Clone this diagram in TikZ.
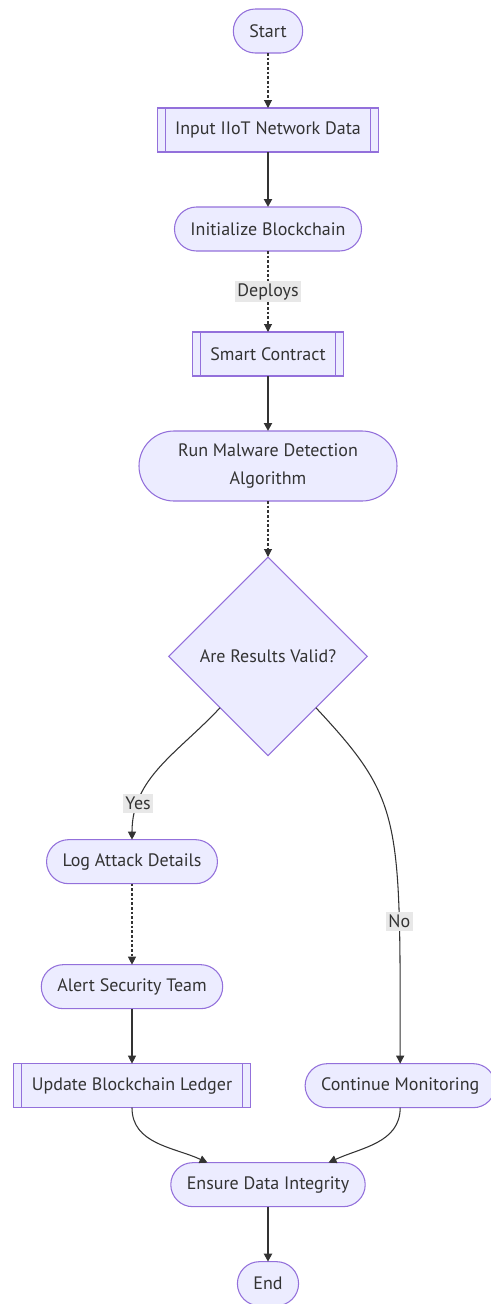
\documentclass[tikz,border=0pt]{standalone}
\usepackage{fontspec}
\setmainfont{PT Sans}
\usetikzlibrary{arrows.meta, positioning, shapes.geometric}
\definecolor{nodefill}{HTML}{ECECFF}
\definecolor{nodeline}{HTML}{9370DB}
\definecolor{linkgray}{HTML}{333333}
\definecolor{labelbg}{HTML}{E8E8E8}

\begin{document}
\begin{tikzpicture}[
  node distance=41.25pt,
  font=\fontsize{13.5}{16}\selectfont, text=linkgray,
  stadium/.style={rectangle, draw=nodeline, fill=nodefill, line width=0.8pt, outer sep=0pt,
                  rounded corners=16.5pt, minimum height=33pt, inner xsep=12pt, align=center},
  subbox/.style={rectangle, draw=nodeline, fill=nodefill, line width=0.8pt, outer sep=0pt,
                 minimum height=33pt, inner xsep=13.5pt},
  decision/.style={diamond, draw=nodeline, fill=nodefill, line width=0.8pt, outer sep=0pt,
                   minimum width=149pt, minimum height=149pt, inner sep=0pt},
  subline/.style={draw=nodeline, line width=0.8pt},
  arrow/.style={-{Triangle[length=6pt,width=6pt]}, draw=linkgray, line width=0.8pt},
  thickarrow/.style={arrow, line width=2.2pt},
  dotarrow/.style={arrow, dash pattern=on 2pt off 1.5pt},
  edgelabel/.style={fill=labelbg, inner sep=2pt}
]
  \useasboundingbox (-201pt,23.25pt) rectangle (166.5pt,-954.75pt);

  % main column
  \node[stadium] (start) at (0,0) {Start};
  \node[subbox, below=of start] (input) {Input IIoT Network Data};
  \node[stadium, below=of input] (init) {Initialize Blockchain};
  \node[subbox, below=60.75pt of init] (contract) {Smart Contract};
  \node[stadium, below=of contract, minimum width=193.5pt, minimum height=52.5pt,
        rounded corners=26.25pt, font=\fontsize{13.5}{21}\selectfont] (detect)
        {Run Malware Detection\\Algorithm};
  \node[decision, below=42pt of detect] (valid) {Are Results Valid?};

  % branches
  \node[stadium, below=63pt of valid, xshift=-102pt] (logatk) {Log Attack Details};
  \node[stadium, below=60.75pt of logatk] (alert) {Alert Security Team};
  \node[subbox, below=of alert] (ledger) {Update Blockchain Ledger};
  \node[stadium, right=of ledger] (monitor) {Continue Monitoring};

  % end
  \node[stadium, below=of ledger, xshift=102pt] (integrity) {Ensure Data Integrity};
  \node[stadium, below=of integrity] (end) {End};

  % subroutine side bars
  \foreach \n in {input, contract, ledger} {
    \draw[subline] ([xshift=6pt]\n.north west) -- ([xshift=6pt]\n.south west);
    \draw[subline] ([xshift=-6pt]\n.north east) -- ([xshift=-6pt]\n.south east);
  }

  % links
  \draw[dotarrow] (start) -- (input);
  \draw[thickarrow] (input) -- (init);
  \draw[dotarrow] (init) -- node[edgelabel] {Deploys} (contract);
  \draw[thickarrow] (contract) -- (detect);
  \draw[dotarrow] (detect) -- (valid);
  \draw[arrow] (valid.-133) to[out=-133, in=90] node[edgelabel, pos=0.78] {Yes} (logatk.north);
  \draw[arrow] (valid.-47) .. controls +(-47:95pt) and +(90:185pt) ..
    node[edgelabel, pos=0.76] {No} (monitor.north);
  \draw[dotarrow] (logatk) -- (alert);
  \draw[arrow] (alert) -- (ledger);
  \draw[arrow] (ledger.south) to[out=-90, in=155] (integrity.160);
  \draw[arrow] (monitor.south) to[out=-90, in=25] (integrity.20);
  \draw[thickarrow] (integrity) -- (end);

\end{tikzpicture}
\end{document}
